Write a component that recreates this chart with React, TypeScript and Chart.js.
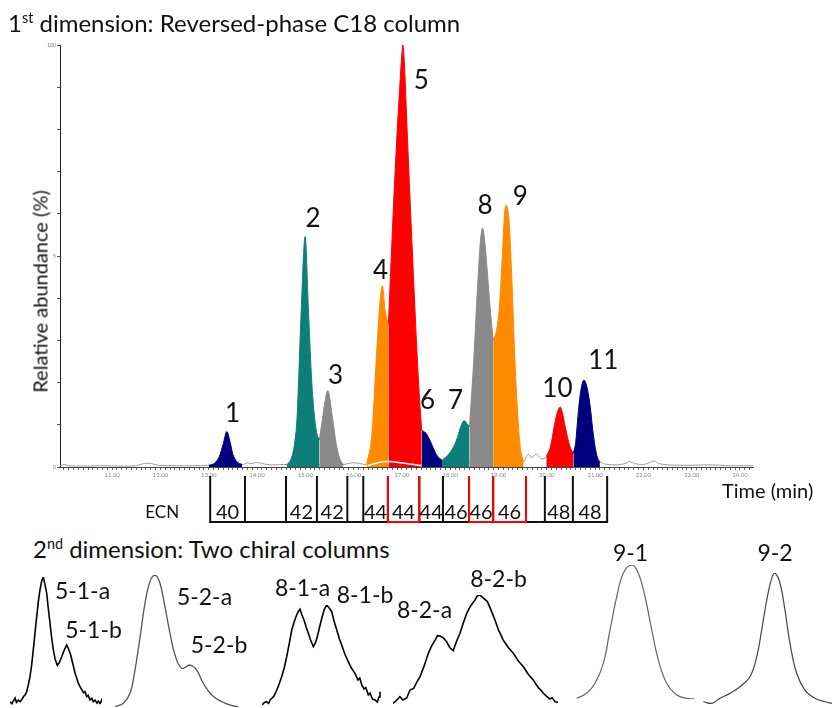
import React, { useEffect, useRef } from "react";
import { Chart, registerables } from "chart.js";
Chart.register(...registerables);

const FONT = "Lato, 'Noto Sans', 'DejaVu Sans', sans-serif";
Chart.defaults.font.family = FONT;

type P = [number, number];

// ---------- 1st dimension: time (min) vs relative abundance (%) ----------
const baselineTrace: P[] = [
  [9.92, 0.3], [10.02, 0.6], [10.1, 0.3], [10.4, 0.2], [10.8, 0.3], [11.2, 0.2], [11.5, 0.3],
  [11.62, 0.7], [11.72, 0.9], [11.82, 0.8], [11.95, 0.4], [12.3, 0.3], [12.7, 0.3], [13.0, 0.4],
  [13.4, 0.5], [13.72, 0.6], [13.8, 1.0], [13.88, 0.8], [13.97, 1.1], [14.05, 1.0], [14.15, 0.7],
  [14.3, 0.5], [14.62, 0.6], [15.0, 0.5], [15.79, 0.6], [15.88, 0.8], [15.98, 1.0], [16.08, 0.9],
  [16.18, 0.7], [16.27, 0.5], [17.0, 0.5], [17.83, 1.5], [18.4, 1.0], [19.0, 1.0], [19.52, 1.2],
  [19.57, 2.4], [19.62, 3.0], [19.67, 2.3], [19.72, 2.5], [19.78, 3.1], [19.84, 2.4], [19.9, 1.9],
  [19.99, 2.2], [20.3, 1.5], [21.1, 1.2], [21.2, 0.7], [21.45, 0.5], [21.62, 0.8], [21.72, 1.3],
  [21.82, 0.8], [22.0, 0.6], [22.12, 1.0], [22.22, 1.4], [22.32, 0.8], [22.5, 0.5], [22.9, 0.4],
  [23.4, 0.5], [23.8, 0.3], [24.27, 0.3],
];
const peak1: P[] = [[13.0, 0.4], [13.12, 0.9], [13.22, 2.5], [13.3, 5.5], [13.375, 8.4], [13.44, 6.0], [13.5, 3.0], [13.58, 1.3], [13.69, 0.6]];
const peak2: P[] = [[14.62, 0.6], [14.7, 1.8], [14.77, 5], [14.83, 12], [14.91, 35.6], [14.996, 54.6], [15.064, 37.2], [15.135, 19.8], [15.224, 8.8], [15.29, 6.4]];
const peak3: P[] = [[15.29, 6.4], [15.35, 11], [15.39, 14.3], [15.466, 18.1], [15.55, 12.7], [15.65, 4.8], [15.72, 1.8], [15.79, 0.6]];
const peak4: P[] = [[16.27, 0.5], [16.38, 8], [16.48, 27.7], [16.55, 39.6], [16.597, 42.9], [16.652, 37.2], [16.72, 33.6]];
const peak5: P[] = [[16.72, 33.6], [16.78, 50], [16.83, 63], [16.89, 77], [16.95, 89], [17.0, 98], [17.02, 100], [17.05, 96], [17.1, 82], [17.17, 63], [17.24, 45], [17.3, 30], [17.36, 17], [17.41, 8.8]];
const peak6: P[] = [[17.41, 8.8], [17.45, 8.4], [17.5, 8.0], [17.58, 6.3], [17.65, 4.5], [17.72, 2.8], [17.83, 1.6]];
const peak7: P[] = [[17.83, 1.6], [17.95, 2.8], [18.07, 4.8], [18.15, 7], [18.22, 9.6], [18.29, 11], [18.35, 10.2], [18.4, 9.6]];
const peak8: P[] = [[18.4, 9.6], [18.48, 23.8], [18.57, 43.5], [18.63, 54], [18.67, 56.6], [18.72, 53], [18.76, 47.5], [18.83, 37.2], [18.89, 30]];
const peak9: P[] = [[18.89, 30], [18.96, 32.5], [19.02, 38], [19.07, 48], [19.12, 59], [19.15, 62], [19.19, 61], [19.22, 58], [19.28, 43.5], [19.33, 28], [19.38, 15.9], [19.45, 4.8], [19.52, 1.2]];
const peak10: P[] = [[19.99, 2.5], [20.08, 5], [20.16, 10], [20.22, 13], [20.28, 14.2], [20.33, 12.5], [20.38, 9.6], [20.48, 4.8], [20.55, 3.2]];
const peak11: P[] = [[20.55, 3.2], [20.6, 6], [20.65, 12.7], [20.71, 18.5], [20.77, 20.6], [20.84, 18.5], [20.9, 14.2], [20.95, 9], [21.0, 4.8], [21.05, 2.2], [21.1, 1.2]];
const integrationBase45: P[] = [[16.29, 0.3], [16.5, 1.0], [16.72, 1.3], [17.05, 0.9], [17.4, 0.3]];

const NAVY = "#00007f";
const TEAL = "#0d7f78";
const GRAY = "#8a8a8a";
const ORANGE = "#ff8a00";
const RED = "#ff0000";
const peakSeries = [peak1, peak2, peak3, peak4, peak5, peak6, peak7, peak8, peak9, peak10, peak11];
const peakColors = [NAVY, TEAL, GRAY, ORANGE, RED, NAVY, TEAL, GRAY, ORANGE, RED, NAVY];

const peakLabelTexts = ["1", "2", "3", "4", "5", "6", "7", "8", "9", "10", "11"];
const peakLabelTimes = [13.495, 15.16, 15.627, 16.56, 17.4, 17.53, 18.11, 18.72, 19.45, 20.22, 21.17];
const peakLabelHeights = [12.9, 59.2, 21.8, 46.7, 91.7, 16.0, 16.0, 62.1, 64.2, 18.8, 25.4];

const ecnBoundaries = [13.03, 13.75, 14.6, 15.24, 15.87, 16.2, 16.71, 17.36, 17.85, 18.39, 18.89, 19.57, 19.96, 20.54, 21.25];
const ecnLabels = ["40", "", "42", "42", "", "44", "44", "44", "46", "46", "46", "", "48", "48"];
const ecnRedCells = [6, 9, 10];

const xTickValues = Array.from({ length: 143 }, (_, i) => Math.round((10 + i * 0.1) * 10) / 10);
const yTickValues = [0, 10, 20, 30, 40, 50, 60, 70, 80, 90, 100];
const yTickLabels: Record<number, string> = { 0: "0", 50: "5", 100: "100" };

// ---------- 2nd dimension traces: normalised time vs intensity (% of max) ----------
const trace51: P[] = [
  [0.0, 2.6], [0.02, 1.0], [0.04, 3.5], [0.055, 5.5], [0.07, 2.0], [0.09, 3.8], [0.11, 2.6], [0.13, 4.5],
  [0.15, 6.8], [0.163, 7.8], [0.18, 10], [0.2, 16], [0.217, 22], [0.235, 31], [0.253, 43], [0.27, 55],
  [0.29, 69], [0.31, 82], [0.326, 90], [0.345, 97], [0.362, 100], [0.38, 94], [0.399, 87.5], [0.415, 76],
  [0.435, 64], [0.452, 53], [0.471, 43], [0.49, 36], [0.514, 31], [0.535, 33], [0.562, 37.7], [0.59, 43],
  [0.616, 47], [0.635, 44], [0.66, 39], [0.68, 33], [0.707, 25], [0.725, 21], [0.74, 17.5], [0.761, 14.3],
  [0.78, 12], [0.8, 9.5], [0.815, 10.5], [0.834, 6.5], [0.85, 7.5], [0.87, 4.0], [0.89, 5.2], [0.905, 2.6],
  [0.925, 3.8], [0.945, 1.5], [0.96, 3.0], [0.978, 1.3], [0.99, 2.5], [1.0, 5.0],
];
const trace52: P[] = [
  [0.016, 0.2], [0.081, 2.8], [0.134, 10.4], [0.173, 28], [0.213, 53], [0.252, 78.5], [0.291, 95], [0.331, 100],
  [0.37, 93.7], [0.409, 76], [0.449, 55.8], [0.488, 39.4], [0.541, 29.3], [0.606, 31.8], [0.659, 28], [0.711, 18],
  [0.777, 9.1], [0.856, 4], [0.947, 0.8], [0.987, 0.2],
];
const trace81: P[] = [
  [0.0, 0], [0.02, 2.5], [0.039, 3.3], [0.055, 1.5], [0.07, 5.5], [0.081, 6.7], [0.1, 9], [0.123, 15],
  [0.14, 20], [0.164, 28.3], [0.185, 37], [0.206, 48.3], [0.228, 62], [0.248, 75], [0.265, 82], [0.283, 88.3],
  [0.3, 93], [0.317, 95.7], [0.333, 90], [0.35, 85], [0.368, 78], [0.386, 71.7], [0.405, 65], [0.428, 58.3],
  [0.445, 62], [0.461, 68.3], [0.48, 78], [0.498, 86.7], [0.52, 96], [0.539, 100], [0.56, 97], [0.581, 93.3],
  [0.6, 84], [0.623, 75], [0.645, 66], [0.664, 60], [0.69, 51], [0.719, 43.3], [0.745, 37], [0.775, 31.7],
  [0.8, 25], [0.815, 27], [0.831, 20], [0.85, 16], [0.865, 17.5], [0.886, 10], [0.9, 12], [0.92, 6],
  [0.942, 5], [0.96, 3], [0.975, 8], [0.983, 13.3],
];
const trace82: P[] = [
  [0.0, 1.5], [0.02, 4], [0.042, 7.5], [0.06, 4.5], [0.083, 6.4], [0.103, 13.6], [0.125, 15], [0.145, 21],
  [0.164, 25.7], [0.19, 36], [0.214, 47], [0.235, 54], [0.255, 59], [0.27, 63], [0.285, 62.7], [0.305, 61],
  [0.325, 57.5], [0.345, 52], [0.365, 49.4], [0.385, 58], [0.406, 65.2], [0.425, 74], [0.447, 83.4], [0.47, 90],
  [0.497, 95.5], [0.51, 99], [0.527, 100], [0.55, 97], [0.572, 94], [0.595, 86], [0.618, 77.3], [0.64, 68],
  [0.668, 59], [0.7, 52], [0.729, 47], [0.76, 40], [0.79, 34.8], [0.82, 28], [0.85, 22.7], [0.88, 16],
  [0.9, 13], [0.911, 10.6], [0.93, 8], [0.95, 5.5], [0.965, 6.5], [0.982, 3], [1.0, 2.5],
];
const trace91: P[] = [
  [0.014, 0.5], [0.096, 4.3], [0.164, 11.7], [0.232, 26.6], [0.287, 51.5], [0.342, 76.3], [0.396, 93.8], [0.465, 100],
  [0.519, 93.8], [0.574, 76.3], [0.629, 51.5], [0.683, 29.1], [0.752, 11.7], [0.834, 3], [0.916, 0.5], [0.984, 0],
];
const trace92: P[] = [
  [0.01, 3.2], [0.075, 2], [0.138, 5.8], [0.215, 9.5], [0.292, 14.5], [0.369, 22], [0.421, 37], [0.459, 57],
  [0.498, 79.7], [0.536, 96], [0.562, 99.8], [0.6, 92.3], [0.638, 72.2], [0.677, 47], [0.728, 24.6], [0.792, 12],
  [0.869, 5.8], [0.946, 3.2], [1.0, 2],
];

const toXY = (s: P[]) => s.map(([x, y]) => ({ x, y }));

function MainChart() {
  const ref = useRef<HTMLCanvasElement>(null);
  useEffect(() => {
    const overlay = {
      id: "overlay",
      afterDatasetsDraw(chart: any) {
        const { ctx, scales } = chart;
        const x = scales.x, y = scales.y;
        ctx.save();
        ctx.fillStyle = "#111";
        const fs = 26;
        ctx.font = `${fs}px ${FONT}`;
        ctx.textAlign = "center";
        ctx.textBaseline = "alphabetic";
        peakLabelTexts.forEach((t, i) => {
          ctx.fillText(t, x.getPixelForValue(peakLabelTimes[i]), y.getPixelForValue(peakLabelHeights[i]) + 0.36 * fs);
        });
        ctx.restore();
      },
      afterDraw(chart: any) {
        const { ctx, chartArea, scales } = chart;
        const x = scales.x;
        const top = chartArea.bottom + 10;
        const bottom = chartArea.bottom + 55;
        const px = ecnBoundaries.map((v) => x.getPixelForValue(v));
        ctx.save();
        ctx.lineWidth = 2;
        ctx.lineCap = "square";
        ctx.strokeStyle = "#111";
        ctx.beginPath();
        px.forEach((p) => { ctx.moveTo(p, top); ctx.lineTo(p, bottom); });
        ctx.moveTo(px[0], bottom);
        ctx.lineTo(px[px.length - 1], bottom);
        ctx.stroke();
        ctx.strokeStyle = "#ff0000";
        ctx.beginPath();
        ecnRedCells.forEach((i) => {
          ctx.moveTo(px[i], top); ctx.lineTo(px[i], bottom); ctx.lineTo(px[i + 1], bottom); ctx.lineTo(px[i + 1], top);
        });
        ctx.stroke();
        ctx.fillStyle = "#111";
        ctx.textAlign = "center";
        ctx.textBaseline = "alphabetic";
        const cy = bottom - 10;
        const fs = 20;
        ctx.font = `${fs}px ${FONT}`;
        ecnLabels.forEach((l, i) => { if (l) ctx.fillText(l, (px[i] + px[i + 1]) / 2, cy + 0.36 * fs); });
        ctx.font = `17px ${FONT}`;
        ctx.fillText("ECN", px[0] - 48, cy + 0.36 * 17);
        ctx.restore();
      },
    };
    const chart = new Chart(ref.current as HTMLCanvasElement, {
      type: "line",
      data: {
        datasets: [
          { data: toXY(integrationBase45), borderColor: "#ffffff", borderWidth: 1.5, fill: false, pointRadius: 0, cubicInterpolationMode: "monotone", order: 0 } as any,
          ...peakSeries.map((s, i) => ({
            data: toXY(s), borderColor: peakColors[i], backgroundColor: peakColors[i], borderWidth: 1,
            fill: "origin", pointRadius: 0, cubicInterpolationMode: "monotone", order: 1,
          })),
          { data: toXY(baselineTrace), borderColor: "#9a9a9a", borderWidth: 1, fill: false, pointRadius: 0, tension: 0.3, order: 5 } as any,
        ],
      },
      options: {
        responsive: false,
        animation: false,
        layout: { padding: { left: 0, top: 45, right: 79, bottom: 0 } },
        plugins: { legend: { display: false }, tooltip: { enabled: false } },
        scales: {
          x: {
            type: "linear", min: 9.92, max: 24.27,
            afterBuildTicks: (s: any) => { s.ticks = xTickValues.map((v) => ({ value: v })); },
            afterFit: (s: any) => { s.height = 63; },
            ticks: {
              autoSkip: false, maxRotation: 0, padding: 1, font: { size: 6 }, color: "#888",
              callback: (v: any) => { const r = Math.round(v); return Math.abs(v - r) < 1e-6 && r >= 11 ? r.toFixed(2) : ""; },
            },
            grid: { drawOnChartArea: false, drawTicks: true, tickLength: 3, color: "#666" },
            border: { display: true, color: "#444", width: 1 },
          },
          y: {
            min: 0, max: 100,
            afterBuildTicks: (s: any) => { s.ticks = yTickValues.map((v) => ({ value: v })); },
            afterFit: (s: any) => { s.width = 60; },
            ticks: { autoSkip: false, padding: 1, font: { size: 5 }, color: "#777", callback: (v: any) => yTickLabels[Math.round(v)] ?? "" },
            grid: { drawOnChartArea: false, drawTicks: true, tickLength: 3, color: "#555" },
            border: { display: true, color: "#222", width: 1 },
          },
        },
      },
      plugins: [overlay],
    } as any);
    return () => chart.destroy();
  }, []);
  return <canvas ref={ref} width={832} height={530} style={{ position: "absolute", left: 0, top: 0, width: 832, height: 530 }} />;
}

function Trace({ data, left, top, width, height, color, lineWidth, smooth }: any) {
  const ref = useRef<HTMLCanvasElement>(null);
  useEffect(() => {
    const chart = new Chart(ref.current as HTMLCanvasElement, {
      type: "line",
      data: { datasets: [{ data: toXY(data), borderColor: color, borderWidth: lineWidth, pointRadius: 0, fill: false, tension: smooth ? 0.4 : 0 }] },
      options: {
        responsive: false, animation: false,
        layout: { padding: { top: 4, bottom: 4, left: 2, right: 2 } },
        plugins: { legend: { display: false }, tooltip: { enabled: false } },
        scales: { x: { type: "linear", min: 0, max: 1, display: false }, y: { min: 0, max: 100, display: false } },
      },
    } as any);
    return () => chart.destroy();
  }, []);
  return <canvas ref={ref} width={width} height={height} style={{ position: "absolute", left, top, width, height }} />;
}

const traceBoxes = [
  { data: trace51, left: 8, top: 573, width: 96, height: 136, color: "#000", lineWidth: 1.6, smooth: false },
  { data: trace52, left: 111, top: 571, width: 131, height: 140, color: "#555", lineWidth: 1.3, smooth: true },
  { data: trace81, left: 260, top: 601, width: 124, height: 108, color: "#000", lineWidth: 1.6, smooth: false },
  { data: trace82, left: 391, top: 591, width: 169, height: 118, color: "#000", lineWidth: 1.6, smooth: false },
  { data: trace91, left: 573, top: 561, width: 126, height: 142, color: "#666", lineWidth: 1.2, smooth: true },
  { data: trace92, left: 700, top: 569, width: 134, height: 141, color: "#444", lineWidth: 1.2, smooth: true },
];

const traceLabels = [
  { text: "5-1-a", cx: 82.5, cy: 591.5 },
  { text: "5-1-b", cx: 93.5, cy: 630.5 },
  { text: "5-2-a", cx: 204.5, cy: 597.5 },
  { text: "5-2-b", cx: 219, cy: 645 },
  { text: "8-1-a", cx: 302.5, cy: 588.5 },
  { text: "8-1-b", cx: 365, cy: 595.5 },
  { text: "8-2-a", cx: 424.5, cy: 610 },
  { text: "8-2-b", cx: 498.5, cy: 579.5 },
  { text: "9-1", cx: 630.5, cy: 553.5 },
  { text: "9-2", cx: 775, cy: 553.5 },
];

export default function App() {
  const txt = (size: number): React.CSSProperties => ({ position: "absolute", fontSize: size, lineHeight: 1, whiteSpace: "nowrap" });
  const sup: React.CSSProperties = { fontSize: "0.6em", verticalAlign: "0.65em", lineHeight: 0 };
  return (
    <div style={{ position: "absolute", left: 0, top: 0, width: 832, height: 708, background: "#fff", fontFamily: FONT, color: "#111", overflow: "hidden" }}>
      <MainChart />
      {traceBoxes.map((b, i) => <Trace key={i} {...b} />)}
      <div style={{ ...txt(24), left: 8, top: 10.7 }}>1<sup style={sup}>st</sup> dimension: Reversed-phase C18 column</div>
      <div style={{ ...txt(24), left: 33, top: 537.4 }}>2<sup style={sup}>nd</sup> dimension: Two chiral columns</div>
      <div style={{ ...txt(20), left: 722, top: 479.5 }}>Time (min)</div>
      <div style={{ ...txt(20), left: 40 - 150, top: 291 - 10.5, width: 300, textAlign: "center", transform: "rotate(-90deg)", transformOrigin: "150px 10.5px" }}>Relative abundance (%)</div>
      {traceLabels.map((l, i) => (
        <div key={i} style={{ ...txt(23), left: l.cx, top: l.cy - 0.527 * 23, transform: "translateX(-50%)" }}>{l.text}</div>
      ))}
    </div>
  );
}
